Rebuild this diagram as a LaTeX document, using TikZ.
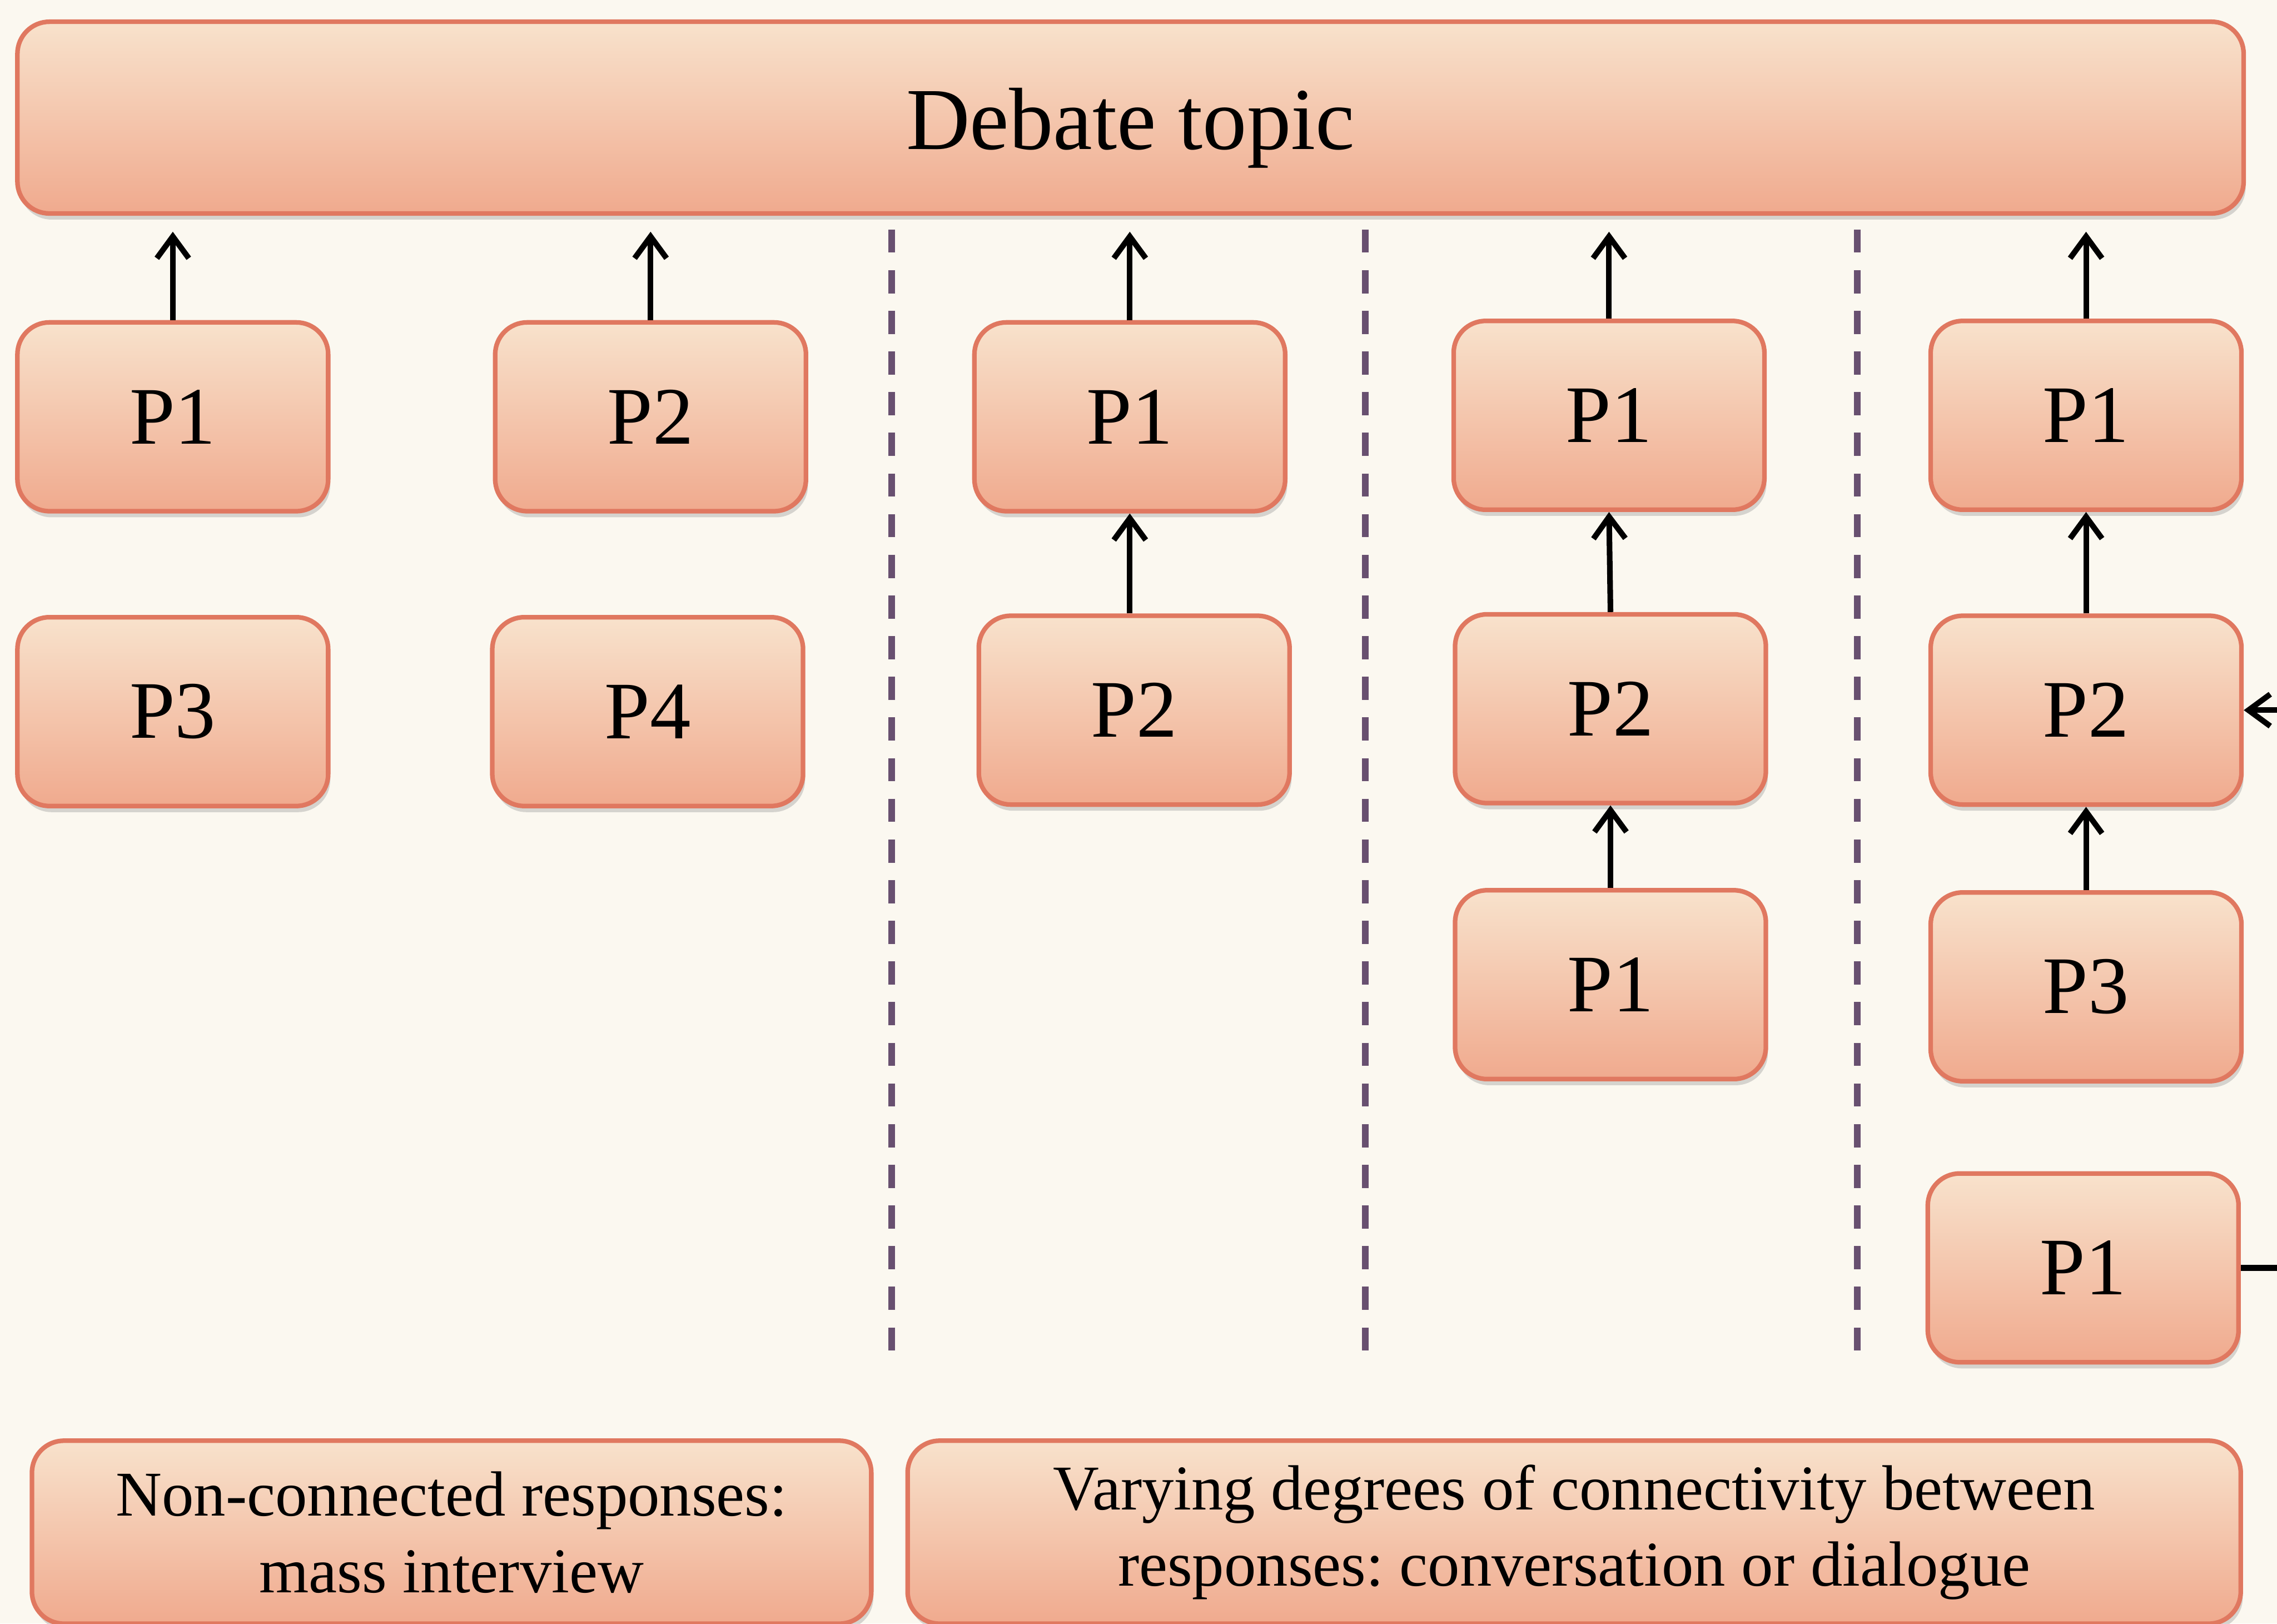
\documentclass[tikz,border=0pt]{standalone}
\usepackage{fontspec}
\setmainfont{Liberation Serif}
\usetikzlibrary{arrows.meta,shadows}

\definecolor{paper}{RGB}{251,248,240}
\definecolor{boxtop}{RGB}{248,226,204}
\definecolor{boxbot}{RGB}{240,170,142}
\definecolor{boxline}{RGB}{224,120,96}
\definecolor{dashcol}{RGB}{104,80,112}
\frenchspacing

\begin{document}
\begin{tikzpicture}[
    pbox/.style={draw=boxline, line width=0.9pt, rounded corners=0.22cm,
        top color=boxtop, bottom color=boxbot,
        minimum width=2.14cm, minimum height=1.3cm,
        font=\fontsize{16}{18}\selectfont,
        drop shadow={opacity=0.3, shadow xshift=0.4pt, shadow yshift=-1.2pt}},
    topicbox/.style={pbox, minimum width=15.33cm, minimum height=1.32cm,
        text height=0.57cm, text depth=0.13cm,
        font=\fontsize{17.3}{20}\selectfont},
    notebox/.style={pbox, minimum height=1.26cm, align=center,
        font=\fontsize{12.5}{15}\selectfont},
    arr/.style={line width=1.1pt, -{Straight Barb[length=1.5mm,width=2.2mm]}},
    divider/.style={dashcol, line width=1.3pt, dash pattern=on 0.16cm off 0.12cm}
]
\useasboundingbox (0,0) rectangle (15.68,11.18);
\fill[paper] (0,0) rectangle (15.68,11.18);
\clip (0,0) rectangle (15.68,11.18);

\node[topicbox] (topic) at (7.785,10.37) {Debate topic};

% mass interview
\node[pbox] (a1) at (1.19,8.31) {P1};
\node[pbox] (a2) at (4.48,8.31) {P2};
\node[pbox] (a3) at (1.19,6.28) {P3};
\node[pbox] (a4) at (4.46,6.28) {P4};

% one reply
\node[pbox] (b1) at (7.78,8.31) {P1};
\node[pbox] (b2) at (7.81,6.29) {P2};

% reply to a reply
\node[pbox] (c1) at (11.08,8.32) {P1};
\node[pbox] (c2) at (11.09,6.30) {P2};
\node[pbox] (c3) at (11.09,4.40) {P1};

% loop back
\node[pbox] (d1) at (14.365,8.32) {P1};
\node[pbox] (d2) at (14.365,6.29) {P2};
\node[pbox] (d3) at (14.365,4.385) {P3};
\node[pbox] (d4) at (14.345,2.45) {P1};

\node[notebox, minimum width=5.78cm] (mass) at (3.11,0.63)
    {Non-connected responses:\\mass interview};
\node[notebox, minimum width=9.18cm] (dialogue) at (10.84,0.63)
    {Varying degrees of connectivity between\\responses: conversation or dialogue};

\foreach \n in {a1,a2,b1,c1,d1}
    \draw[arr, shorten >=0.11cm] (\n.north) -- (\n.north |- topic.south);
\draw[arr] (b2.north -| b1) -- (b1.south);
\draw[arr] (c2.north) -- (c1.south);
\draw[arr] (c3.north) -- (c2.south);
\draw[arr] (d2.north) -- (d1.south);
\draw[arr] (d3.north) -- (d2.south);
\draw[arr] (d4.east) -- ++(0.6,0) |- (d2.east);

\foreach \x in {6.14,9.40,12.79}
    \draw[divider] (\x,9.60) -- (\x,1.78);
\end{tikzpicture}
\end{document}
